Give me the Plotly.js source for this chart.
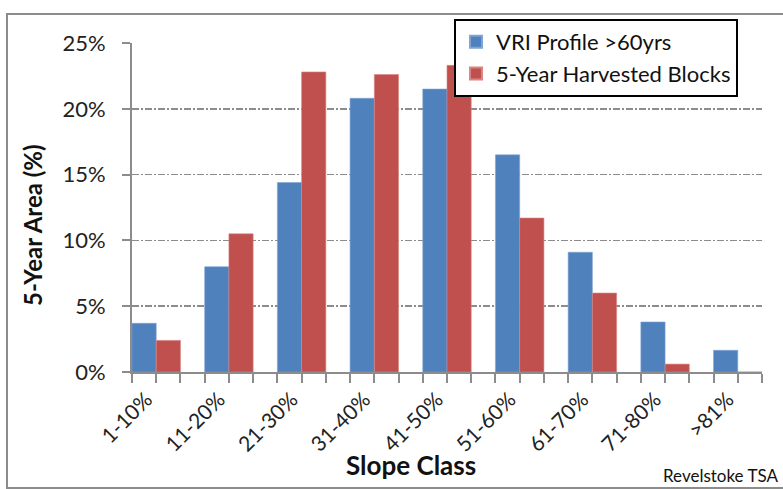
<!DOCTYPE html>
<html>
<head>
<meta charset="utf-8">
<script src="https://cdn.plot.ly/plotly-3.0.1.min.js"></script>
<style>html,body{margin:0;padding:0;background:#fff;}#chart{width:783px;height:489px;}</style>
</head>
<body>
<div id="chart"></div>
<script>
const categories = ["1-10%","11-20%","21-30%","31-40%","41-50%","51-60%","61-70%","71-80%",">81%"];
const vriProfile = [3.7, 8.0, 14.4, 20.8, 21.5, 16.5, 9.1, 3.8, 1.65];
const harvestedBlocks = [2.4, 10.5, 22.8, 22.6, 23.3, 11.7, 6.0, 0.6, 0];
const seriesNames = ["VRI Profile >60yrs", "5-Year Harvested Blocks"];
const yTicks = [0, 5, 10, 15, 20, 25];

const idx = categories.map((c, i) => i);
const third = 1/3;
const FONT = "Lato, 'Open Sans', sans-serif";

const traces = [
  {type:'bar', name: seriesNames[0], x: idx.map(i => i - third), y: vriProfile, width: third,
   marker:{color:'#4F81BD', line:{color:'#7fa3d2', width:0.6}}},
  {type:'bar', name: seriesNames[1], x: idx.map(i => i), y: harvestedBlocks, width: third,
   marker:{color:'#C0504D', line:{color:'#d98583', width:0.6}}}
];

const L = 132, R = 21, T = 43, B = 117, W = 783, H = 489;
const pw = W - L - R, ph = H - T - B;
const px = v => (v - L) / pw;
const py = v => (H - B - v) / ph;

const layout = {
  width: W, height: H,
  margin: {l: L, r: R, t: T, b: B, pad: 0},
  paper_bgcolor: '#fff', plot_bgcolor: '#fff',
  barmode: 'overlay',
  font: {family: FONT, color: '#222'},
  showlegend: true,
  legend: {
    x: px(454), y: py(19), xanchor: 'left', yanchor: 'top',
    bgcolor: '#fff', bordercolor: '#000', borderwidth: 2,
    font: {size: 22, family: FONT, color: '#111'},
    tracegroupgap: 0, itemsizing: 'constant'
  },
  xaxis: {
    range: [-0.5, 8 + 1/6],
    tickmode: 'array',
    tickvals: idx.map(i => i - 1/6),
    ticktext: categories,
    tickangle: -45,
    tickfont: {size: 21, family: FONT, color: '#222'},
    ticklabelshift: -10, ticklabelstandoff: -4,
    ticks: 'outside', ticklen: 9, tickwidth: 2, tickcolor: '#8c8c8c',
    showline: true, linecolor: '#8c8c8c', linewidth: 2,
    showgrid: false, zeroline: false,
    minor: {tickmode: 'linear', tick0: -0.5, dtick: third, ticks: 'outside', ticklen: 9, tickwidth: 2, tickcolor: '#8c8c8c', showgrid: false},
    fixedrange: true
  },
  yaxis: {
    range: [0, 25],
    tickmode: 'array', tickvals: yTicks, ticktext: yTicks.map(v => v + '%'),
    tickfont: {size: 22, family: FONT, color: '#222'},
    ticklabelstandoff: 12,
    ticks: 'outside', ticklen: 8, tickwidth: 2, tickcolor: '#8c8c8c',
    showline: true, linecolor: '#8c8c8c', linewidth: 2,
    showgrid: true, gridcolor: '#8c8c8c', gridwidth: 1.5, griddash: '7px,2px,2px,2px',
    zeroline: false,
    fixedrange: true
  },
  annotations: [
    {text: '<b>5-Year Area (%)</b>', xref: 'paper', yref: 'paper', x: px(32), y: py(225), xanchor: 'center', yanchor: 'middle', textangle: -90, showarrow: false, font: {size: 24, family: FONT, color: '#111'}},
    {text: '<b>Slope Class</b>', xref: 'paper', yref: 'paper', x: px(411), y: py(465), xanchor: 'center', yanchor: 'middle', showarrow: false, font: {size: 26, family: FONT, color: '#111'}},
    {text: 'Revelstoke TSA', xref: 'paper', yref: 'paper', x: px(780), y: py(475), xanchor: 'right', yanchor: 'middle', showarrow: false, font: {size: 17, family: FONT, color: '#111'}}
  ],
  shapes: [
    {type: 'rect', xref: 'paper', yref: 'paper', x0: px(7), x1: px(800), y0: py(488), y1: py(14), line: {color: '#8c8c8c', width: 2}, layer: 'below'}
  ]
};

Plotly.newPlot('chart', traces, layout, {displayModeBar: false, staticPlot: true});
</script>
</body>
</html>
